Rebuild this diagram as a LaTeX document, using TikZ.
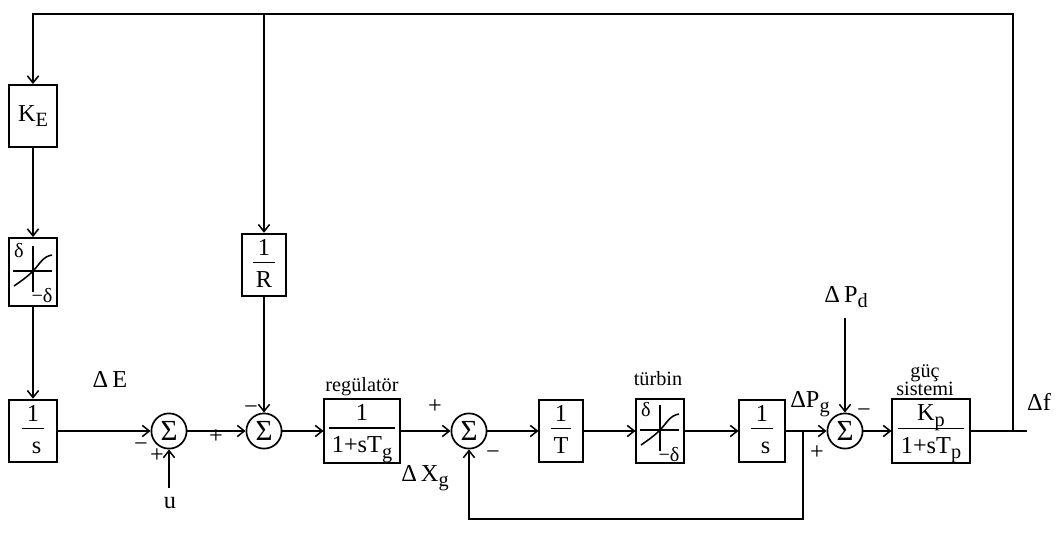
\documentclass[tikz,border=0pt]{standalone}
\usepackage{fontspec}
\setmainfont{Liberation Serif}
\usetikzlibrary{arrows.meta,positioning,calc}
\setlength{\arrayrulewidth}{1pt}
\newcommand{\sub}[1]{\raisebox{-4pt}{\Large #1}}
\newcommand{\frc}[2]{\begin{tabular}{@{\hspace{2pt}}c@{\hspace{2pt}}}#1\\[-2pt]\hline\rule{0pt}{17pt}#2\end{tabular}}
% dead-band / saturation sketch inside a block
\newcommand{\satgraph}[1]{%
  \begin{scope}[shift={(#1.center)}]
   \draw[line width=1.5pt] (-20,-1)--(19,-1);
   \draw[line width=1.1pt] (0,-26)--(0,20);
   \draw[line width=1.1pt] (-19,14) to[out=35,in=225] (0,-1) to[out=45,in=190] (19,-17);
   \node[font=\Large,inner sep=0pt] at (-14,-21) {δ};
   \node[font=\Large,inner sep=0pt] at (9,24) {−δ};
  \end{scope}}

\begin{document}
\begin{tikzpicture}[x=0.025cm,y=-0.025cm,line width=1.1pt,
  every node/.style={font=\LARGE},
  blk/.style={draw,line width=1.3pt,inner sep=0pt,minimum width=1.18cm,minimum height=1.55cm},
  sm/.style={draw,circle,line width=1.2pt,inner sep=0pt,minimum size=0.88cm,font=\huge},
  lb/.style={inner sep=1pt},
  wd/.style={inner sep=1pt,font=\Large,anchor=south},
  sg/.style={font=\LARGE,inner sep=0pt},
  arr/.style={-{Straight Barb[length=5pt,width=8pt]}}]
 \useasboundingbox (0,0) rectangle (1061,539);
 % blocks
 \node[blk] (KE) at (33,116) {K\sub{E}};
 \node[blk,minimum height=1.7cm] (sat1) at (33,272) {};
 \node[blk] (int1) at (33,431) {\frc{1}{\hspace{5pt}s\hspace{5pt}}};
 \node[sm] (sum1) at (169,431) {Σ};
 \node[sm] (sum2) at (264,431) {Σ};
 \node[blk,minimum width=1.1cm,minimum height=1.4cm] (invR) at (264,265) {\frc{1}{R}};
 \node[blk,minimum width=1.88cm,minimum height=1.45cm] (gov) at (362,431) {\frc{1}{1+sT\sub{g}}};
 \node[sm] (sum3) at (469,431) {Σ};
 \node[blk,minimum width=1.08cm,minimum height=1.45cm] (invT) at (561,431) {\frc{1}{T}};
 \node[blk,minimum height=1.62cm] (sat2) at (660,431) {};
 \node[blk,minimum width=1.13cm,minimum height=1.45cm] (int2) at (762,431) {\frc{1}{\hspace{5pt}s\hspace{5pt}}};
 \node[sm] (sum4) at (845,431) {Σ};
 \node[blk,minimum width=1.93cm,minimum height=1.45cm] (plant) at (931,431) {\frc{K\sub{p}}{1+sT\sub{p}}};
 \satgraph{sat1}
 \satgraph{sat2}
 % corners and line ends
 \coordinate (tl) at (33,14);
 \coordinate (tr) at (1013,14);
 \coordinate (tR) at (264,14);
 \coordinate (fj) at (1013,431);
 \coordinate (fend) at (1027,431);
 \coordinate (jn) at (803,431);
 \coordinate (br) at (803,519);
 \coordinate (bl) at (469,519);
 \coordinate (ubot) at (169,488);
 \coordinate (pdtop) at (845,318);
 % connectors
 \foreach \a/\b in {KE/sat1,sat1/int1,int1/sum1,ubot/sum1,sum1/sum2,tR/invR,invR/sum2,sum2/gov,gov/sum3,sum3/invT,invT/sat2,sat2/int2,int2/sum4,pdtop/sum4,sum4/plant}
   \draw[arr] (\a)--(\b);
 \draw[arr] (fj)--(tr)--(tl)--(KE);
 \draw (plant)--(fend);
 \draw[arr] (jn)--(br)--(bl)--(sum3);
 % labels
 \node[lb] (dE) at (110,379) {Δ\,E};
 \node[lb] (u) at (170,503) {u};
 \node[sg] at (141,447) {−};
 \node[sg] at (157,456) {+};
 \node[sg] at (216,437) {+};
 \node[sg] at (251,410) {−};
 \node[wd] (lgov) at (362,398) {regülatör};
 \node[sg] at (435,407) {+};
 \node[sg] at (493,455) {−};
 \node[lb] (dX) at (425,478) {Δ\,X\sub{g}};
 \node[wd] (ltur) at (658,388) {türbin};
 \node[lb] (dPd) at (846,297) {Δ\,P\sub{d}};
 \node[lb] (dPg) at (810,404) {ΔP\sub{g}};
 \node[sg] at (817,453) {+};
 \node[sg] at (864,413) {−};
 \node[wd,align=center] (lplant) at (925,398) {güç\\[-5pt]sistemi};
 \node[lb] (df) at (1039,402) {Δf};
\end{tikzpicture}
\end{document}
